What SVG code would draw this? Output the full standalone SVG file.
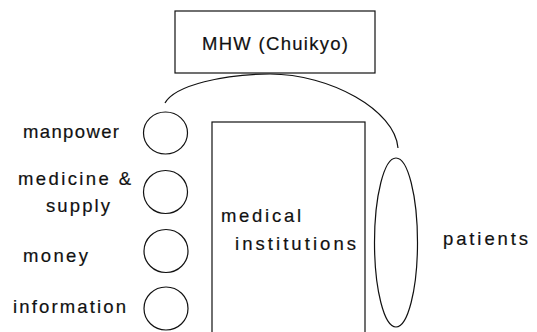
<svg xmlns="http://www.w3.org/2000/svg" width="537" height="332" viewBox="0 0 537 332">
<style>
.s{fill:none;stroke:#111;stroke-width:1.2}
.t{font-family:"Liberation Sans",Arial,sans-serif;font-size:18.5px;fill:#111;stroke:#111;stroke-width:0.2}
</style>
<rect width="537" height="332" fill="#fff"/>
<g id="connectors">
<path class="s" d="M165,103 C175,85 225,74 270,74 C330,74 395,110 398,148"/>
</g>
<g id="mhw">
<rect class="s" x="175" y="11" width="200" height="62"/>
<text class="t" x="202" y="50" textLength="146" lengthAdjust="spacing">MHW (Chuikyo)</text>
</g>
<g id="manpower">
<ellipse class="s" cx="165.5" cy="133" rx="22" ry="21"/>
<text class="t" x="23" y="138" textLength="96" lengthAdjust="spacing">manpower</text>
</g>
<g id="medicine">
<ellipse class="s" cx="165.5" cy="192" rx="22" ry="21.5"/>
<text class="t" x="18" y="185" textLength="113" lengthAdjust="spacing">medicine &amp;</text>
<text class="t" x="46" y="212" textLength="64" lengthAdjust="spacing">supply</text>
</g>
<g id="money">
<ellipse class="s" cx="166" cy="251" rx="22" ry="21.5"/>
<text class="t" x="23" y="262" textLength="65" lengthAdjust="spacing">money</text>
</g>
<g id="information">
<ellipse class="s" cx="166" cy="308.5" rx="22" ry="21.5"/>
<text class="t" x="13" y="313" textLength="113" lengthAdjust="spacing">information</text>
</g>
<g id="medical-institutions">
<rect class="s" x="212" y="122" width="153" height="230"/>
<text class="t" x="221" y="222" textLength="80" lengthAdjust="spacing">medical</text>
<text class="t" x="235" y="250" textLength="121" lengthAdjust="spacing">institutions</text>
</g>
<g id="patients">
<ellipse class="s" cx="396" cy="242.5" rx="21.5" ry="84.5"/>
<text class="t" x="443" y="245" textLength="85" lengthAdjust="spacing">patients</text>
</g>
</svg>
